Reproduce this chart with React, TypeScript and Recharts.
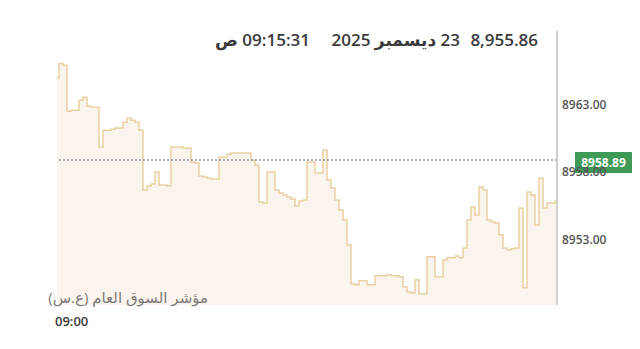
import { Area, AreaChart, ReferenceLine, XAxis, YAxis } from "recharts";

const prices = [
  8964.91, 8966.01, 8965.87, 8962.49, 8962.56, 8962.56, 8963.29, 8963.51, 8962.85, 8962.78,
  8962.78, 8959.84, 8961.09, 8961.09, 8961.16, 8961.24, 8961.24, 8961.68, 8961.97, 8961.82,
  8961.68, 8961.09, 8956.68, 8956.97, 8957.12, 8958.0, 8957.04, 8957.04, 8956.97, 8959.84,
  8959.84, 8959.84, 8959.76, 8959.76, 8958.74, 8958.66, 8957.71, 8957.63, 8957.56, 8957.49,
  8957.49, 8959.1, 8959.1, 8959.32, 8959.4, 8959.4, 8959.4, 8959.4, 8959.4, 8958.88,
  8958.51, 8955.79, 8955.72, 8958.0, 8958.0, 8956.68, 8956.46, 8956.31, 8956.16, 8956.01,
  8955.5, 8955.87, 8955.94, 8958.74, 8958.74, 8957.93, 8957.93, 8959.62, 8957.41, 8956.82,
  8955.94, 8955.21, 8954.47, 8952.63, 8949.76, 8949.69, 8949.99, 8949.99, 8949.69, 8949.69,
  8950.35, 8950.35, 8950.35, 8950.43, 8950.35, 8950.35, 8950.28, 8949.54, 8949.18, 8949.1,
  8950.06, 8949.03, 8949.03, 8951.75, 8951.75, 8950.28, 8950.28, 8951.53, 8951.68, 8951.68,
  8951.82, 8951.68, 8952.41, 8954.47, 8955.43, 8954.84, 8956.9, 8956.68, 8954.47, 8954.32,
  8954.25, 8953.37, 8952.41, 8952.26, 8952.34, 8952.41, 8955.35, 8949.47, 8956.53, 8956.31,
  8954.1, 8957.56, 8955.35, 8955.72, 8955.72, 8955.86,
];
const yTicks = [8953, 8958, 8963];
const prevClose = 8958.89;
const lastPrice = "8,955.86";
const dateLabel = "23 ديسمبر 2025";
const timeLabel = "09:15:31 ص";
const indexName = "مؤشر السوق العام (ع.س)";
const startTime = "09:00";

const data = prices.map((p, i) => ({ i, p }));

const PriceTag = (props: any) => {
  const { viewBox } = props;
  const y = viewBox.y;
  return (
    <g>
      <rect x={575} y={y - 8} width={57} height={21} fill="#3f9a57" />
      <text
        x={603.5}
        y={y + 7}
        textAnchor="middle"
        fill="#fff"
        fontSize={12}
        fontWeight={700}
        fontFamily="Open Sans, sans-serif"
      >
        {prevClose.toFixed(2)}
      </text>
    </g>
  );
};

export default function App() {
  const font = "'Open Sans', 'DejaVu Sans', sans-serif";
  return (
    <div style={{ position: "absolute", left: 0, top: 0, width: 640, height: 349, background: "#fff" }}>
      <AreaChart
        width={640}
        height={349}
        data={data}
        margin={{ top: 31, right: 0, left: 57, bottom: 44 }}
      >
        <XAxis dataKey="i" hide type="number" domain={[0, prices.length - 1]} />
        <YAxis
          orientation="right"
          domain={[8948.2, 8968.4]}
          ticks={yTicks}
          width={83}
          tickLine={false}
          tickSize={0}
          tickMargin={5}
          axisLine={{ stroke: "#cfcfcf", strokeWidth: 2 }}
          tickFormatter={(v: number) => v.toFixed(2)}
          tick={{ fill: "#555", fontSize: 12, fontWeight: 600, fontFamily: font, textAnchor: "start" }}
        />
        <Area
          type="step"
          dataKey="p"
          stroke="#e9cfa2"
          strokeWidth={1.5}
          fill="#fbf4ec"
          fillOpacity={1}
          dot={false}
          activeDot={false}
          isAnimationActive={false}
        />
        <ReferenceLine
          y={prevClose}
          stroke="#8d97a3"
          strokeWidth={1.5}
          strokeDasharray="2 2"
          label={<PriceTag />}
        />
      </AreaChart>
      <div
        style={{
          position: "absolute",
          top: 28,
          left: 200,
          width: 338,
          height: 24,
          fontFamily: font,
          fontWeight: 600,
          fontSize: 17,
          color: "#3a3a3a",
        }}
      >
        <span style={{ position: "absolute", right: 0, top: 0 }}>{lastPrice}</span>
        <span style={{ position: "absolute", right: 78, top: 0, direction: "rtl" }}>{dateLabel}</span>
        <span style={{ position: "absolute", right: 228, top: 0, direction: "rtl" }}>{timeLabel}</span>
      </div>
      <div
        style={{
          position: "absolute",
          top: 287,
          left: 30,
          width: 178,
          textAlign: "right",
          direction: "rtl",
          fontFamily: font,
          fontSize: 15,
          color: "#7a7a7a",
        }}
      >
        {indexName}
      </div>
      <div
        style={{
          position: "absolute",
          top: 312,
          left: 55,
          fontFamily: font,
          fontSize: 13,
          fontWeight: 600,
          color: "#3a3a3a",
        }}
      >
        {startTime}
      </div>
    </div>
  );
}
